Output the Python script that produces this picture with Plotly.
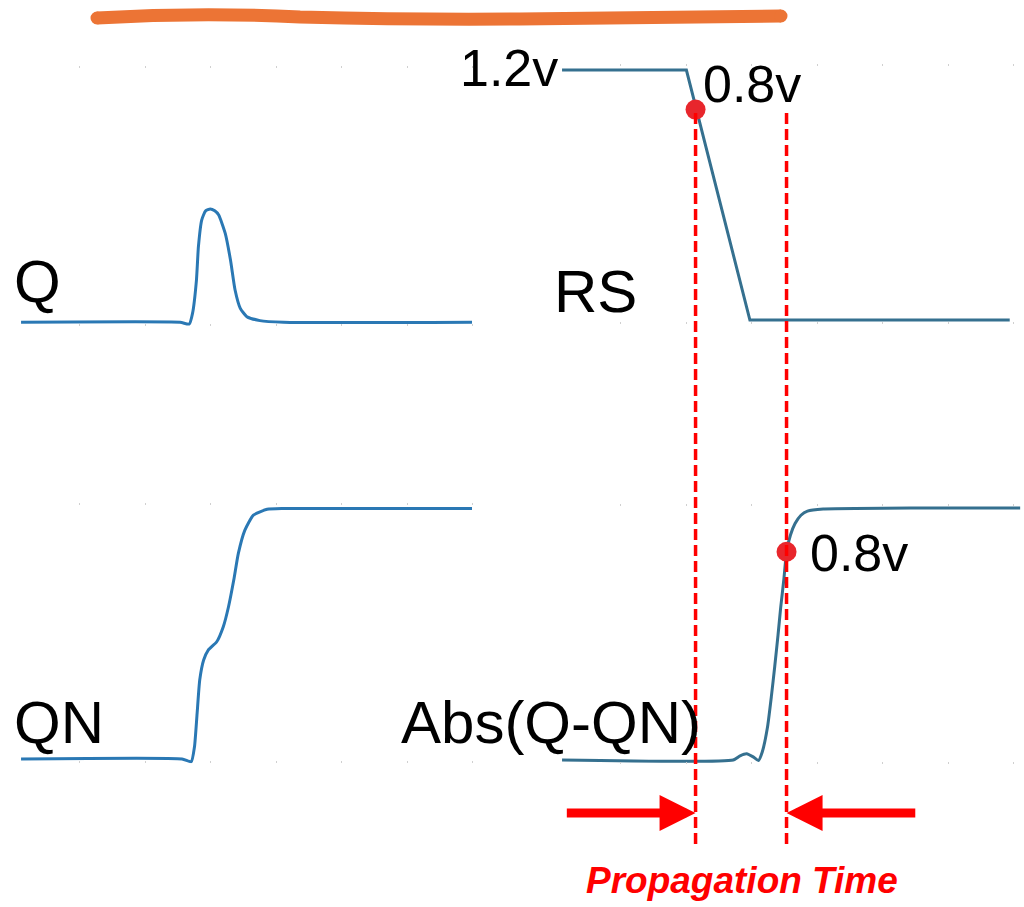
import plotly.graph_objects as go

W, H = 1024, 907

# ---------------- data (time in arbitrary units, volts) ----------------
q_t = [0.10, 2.53, 2.67, 2.72, 2.78, 2.81, 2.86, 2.92, 2.99, 3.06, 3.12, 3.22, 3.30, 3.37, 3.45, 3.55, 3.75, 4.11, 6.99]
q_v = [0.00, 0.00, -0.008, 0.043, 0.203, 0.363, 0.491, 0.535, 0.544, 0.535, 0.515, 0.427, 0.299, 0.155, 0.067, 0.027, 0.008, 0.00, 0.00]

qn_t = [0.10, 2.56, 2.70, 2.75, 2.79, 2.83, 2.89, 2.96, 3.09, 3.19, 3.27, 3.35, 3.42, 3.52, 3.65, 3.86, 4.11, 6.99]
qn_v = [0.00, 0.00, -0.013, 0.059, 0.219, 0.379, 0.475, 0.523, 0.563, 0.635, 0.731, 0.859, 0.987, 1.099, 1.171, 1.199, 1.203, 1.203]

rs_t = [0.10, 2.00, 2.97, 6.94]
rs_v = [1.20, 1.20, 0.00, 0.00]

abs_t = [0.10, 2.715, 2.82, 2.92, 3.02, 3.10, 3.16, 3.24, 3.30, 3.35, 3.40, 3.44, 3.49, 3.53, 3.59, 3.66, 3.75, 3.85, 4.09, 5.50, 7.10]
abs_v = [0.00, 0.00, 0.02, 0.03, 0.015, -0.003, 0.04, 0.16, 0.31, 0.45, 0.60, 0.73, 0.87, 1.00, 1.08, 1.135, 1.175, 1.195, 1.205, 1.21, 1.21]

t_start, t_end = 2.14, 3.53          # 0.8v crossing instants
v_start, v_end = 1.01, 1.00
tick_vals = [1, 2, 3, 4, 5, 6, 7]

labels_big = ["Q", "QN", "RS", "Abs(Q-QN)"]
volt_labels = ["1.2v", "0.8v", "0.8v"]
prop_label = "Propagation Time"

# ---------------- layout helpers ----------------
def px_x(x):
    return x / W

def px_y(y):
    return 1 - y / H

PXV = 208.3     # pixels per volt
PXT = 65.45     # pixels per time unit
Y_RANGE = [-0.02, 1.23]

def ydom(base):
    return [px_y(base + (0 - Y_RANGE[0]) * PXV), px_y(base - Y_RANGE[1] * PXV)]

def xdom(x0, tmax):
    return [px_x(x0), px_x(x0 + tmax * PXT)]

LEFT_X0, RIGHT_X0 = 14.5, 555.5
LEFT_TMAX, RIGHT_TMAX = 7.05, 7.11

left_col = "#2a78b4"
right_col = "#35708f"

fig = go.Figure()

panels = [
    ("x", "y", q_t, q_v, left_col, "spline"),
    ("x2", "y2", qn_t, qn_v, left_col, "spline"),
    ("x3", "y3", rs_t, rs_v, right_col, "linear"),
    ("x4", "y4", abs_t, abs_v, right_col, "spline"),
]
for xa, ya, t, v, c, shp in panels:
    ln = dict(color=c, width=3, shape=shp)
    if shp == "spline":
        ln["smoothing"] = 0.5
    fig.add_trace(go.Scatter(x=t, y=v, xaxis=xa, yaxis=ya, mode="lines",
                             line=ln, hoverinfo="skip", showlegend=False))

# red markers at 0.8v crossings
fig.add_trace(go.Scatter(x=[t_start], y=[v_start], xaxis="x3", yaxis="y3", mode="markers",
                         marker=dict(color="#e8262c", size=20), showlegend=False, hoverinfo="skip"))
fig.add_trace(go.Scatter(x=[t_end], y=[v_end], xaxis="x4", yaxis="y4", mode="markers",
                         marker=dict(color="#e8262c", size=20), showlegend=False, hoverinfo="skip"))

axis_common = dict(showgrid=False, zeroline=False, showline=False, showticklabels=False)
xcommon = dict(axis_common, tickvals=tick_vals, ticks="inside", ticklen=2, tickwidth=1,
               tickcolor="#d0d0d0", mirror="ticks")
ycommon = dict(axis_common, range=Y_RANGE, ticks="")

fig.update_layout(
    width=W, height=H, autosize=False,
    margin=dict(l=0, r=0, t=0, b=0),
    paper_bgcolor="white", plot_bgcolor="rgba(0,0,0,0)",
    xaxis=dict(xcommon, domain=xdom(LEFT_X0, LEFT_TMAX), range=[0, LEFT_TMAX], anchor="y"),
    yaxis=dict(ycommon, domain=ydom(322.3), anchor="x"),
    xaxis2=dict(xcommon, domain=xdom(LEFT_X0, LEFT_TMAX), range=[0, LEFT_TMAX], anchor="y2"),
    yaxis2=dict(ycommon, domain=ydom(759), anchor="x2"),
    xaxis3=dict(xcommon, domain=xdom(RIGHT_X0, RIGHT_TMAX), range=[0, RIGHT_TMAX], anchor="y3"),
    yaxis3=dict(ycommon, domain=ydom(320), anchor="x3"),
    xaxis4=dict(xcommon, domain=xdom(RIGHT_X0, RIGHT_TMAX), range=[0, RIGHT_TMAX], anchor="y4"),
    yaxis4=dict(ycommon, domain=ydom(760), anchor="x4"),
    font=dict(family="Liberation Sans, Arial, sans-serif", color="black"),
)

# dashed vertical markers
for tv in (t_start, t_end):
    fig.add_shape(type="line", xref="x3", yref="paper", x0=tv, x1=tv,
                  y0=px_y(844), y1=px_y(111),
                  line=dict(color="#ff0000", width=3.5, dash="11px,5px"))

# orange scribble
pts = [(97, 18), (200, 12), (300, 17), (420, 20), (520, 19), (650, 18), (781, 16)]
path = "M {:.5f},{:.5f}".format(px_x(pts[0][0]), px_y(pts[0][1]))
path += " Q {:.5f},{:.5f} {:.5f},{:.5f}".format(px_x(pts[1][0]), px_y(pts[1][1]), px_x(pts[2][0]), px_y(pts[2][1]))
path += " Q {:.5f},{:.5f} {:.5f},{:.5f}".format(px_x(pts[3][0]), px_y(pts[3][1]), px_x(pts[4][0]), px_y(pts[4][1]))
path += " Q {:.5f},{:.5f} {:.5f},{:.5f}".format(px_x(pts[5][0]), px_y(pts[5][1]), px_x(pts[6][0]), px_y(pts[6][1]))
orange = "#ec7435"
fig.add_shape(type="path", xref="paper", yref="paper", path=path,
              line=dict(color=orange, width=13))
for (cx, cy) in (pts[0], pts[-1]):
    fig.add_shape(type="circle", xref="paper", yref="paper",
                  x0=px_x(cx - 6.5), x1=px_x(cx + 6.5), y0=px_y(cy + 6.5), y1=px_y(cy - 6.5),
                  fillcolor=orange, line=dict(width=0))

# text labels
def label(text, x, y, size, **kw):
    fig.add_annotation(text=text, x=px_x(x), y=px_y(y), xref="paper", yref="paper",
                       xanchor="left", yanchor="middle", showarrow=False,
                       font=dict(size=size, **kw.pop("font", {})), **kw)

label(labels_big[0], 12, 281, 60)
label(labels_big[1], 12, 722, 60)
label(labels_big[2], 552, 291, 60)
label(labels_big[3], 399, 722, 60)
label(volt_labels[0], 458, 68, 52)
label(volt_labels[1], 701, 84, 52)
label(volt_labels[2], 808, 553, 52)
label("<b><i>" + prop_label + "</i></b>", 584, 880, 37, font=dict(color="#ff0000"))

# propagation arrows
for tip, tail in ((t_start, 0.15), (t_end, 5.52)):
    fig.add_annotation(x=tip, y=px_y(813), xref="x4", yref="paper",
                       ax=tail, ay=0, axref="x4", ayref="pixel",
                       showarrow=True, arrowhead=2, arrowsize=0.8, arrowwidth=9,
                       arrowcolor="#ff0000", standoff=0, text="")

fig.write_html("out.html")
